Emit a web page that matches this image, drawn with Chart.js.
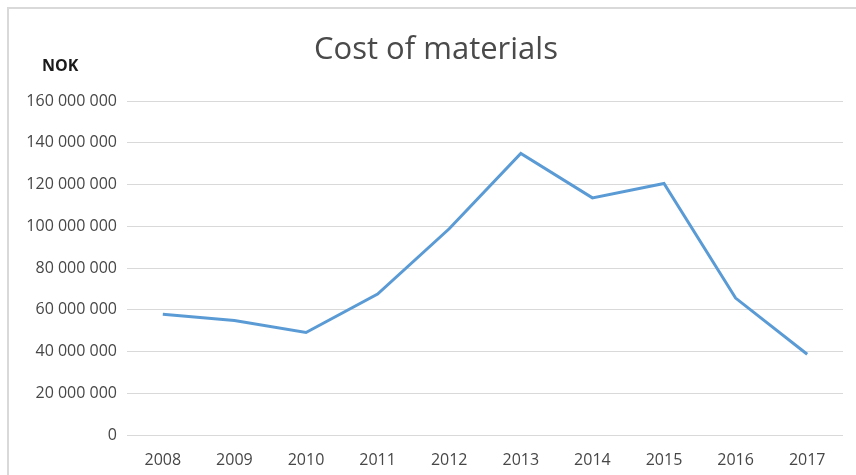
<!DOCTYPE html>
<html lang="en">
<head>
    <meta charset="UTF-8">
    <title>Cost of materials</title>
    <script src="https://cdn.jsdelivr.net/npm/chart.js"></script>
    <style>
        html, body { margin: 0; padding: 0; background: #fff; }
        #wrap { width: 856px; height: 475px; position: relative; }
    </style>
</head>
<body>
<div id="wrap"><canvas id="costChart" width="856" height="475"></canvas></div>
<script>
    // years on the x axis
    const years = ['2008', '2009', '2010', '2011', '2012', '2013', '2014', '2015', '2016', '2017'];
    // cost of materials in NOK
    const costNok = [57900000, 54900000, 49100000, 67500000, 98800000, 134900000, 113600000, 120500000, 65600000, 38700000];
    const titleText = 'Cost of materials';
    const unitText = 'NOK';

    const textGrey = '#474747';

    // spaces as thousand separators: 160 000 000
    function fmt(v) {
        return String(v).replace(/\B(?=(\d{3})+(?!\d))/g, ' ');
    }

    // frame, title and the NOK label
    const decor = {
        id: 'decor',
        beforeDraw(chart) {
            const c = chart.ctx;
            c.save();
            c.strokeStyle = '#d9d9d9';
            c.lineWidth = 2;
            c.beginPath();
            c.moveTo(8, 475);
            c.lineTo(8, 8);
            c.lineTo(856, 8);
            c.stroke();
            c.restore();
        },
        afterDraw(chart) {
            const c = chart.ctx;
            c.save();
            c.fillStyle = '#4a4a4a';
            c.font = '31px "Open Sans"';
            c.textAlign = 'center';
            c.textBaseline = 'middle';
            c.fillText(titleText, 436, 50);
            c.fillStyle = '#1a1a1a';
            c.font = 'bold 16px "Open Sans"';
            c.textAlign = 'left';
            c.fillText(unitText, 42, 66);
            c.restore();
        }
    };

    const ctx = document.getElementById('costChart').getContext('2d');
    new Chart(ctx, {
        type: 'line',
        data: {
            labels: years,
            datasets: [{
                label: titleText,
                data: costNok,
                borderColor: '#5B9BD5',
                borderWidth: 3,
                tension: 0,
                pointRadius: 0,
                fill: false
            }]
        },
        options: {
            responsive: false,
            animation: false,
            layout: { padding: { left: 16, top: 101, right: 13, bottom: 0 } },
            plugins: {
                legend: { display: false },
                title: { display: false },
                tooltip: { enabled: false }
            },
            scales: {
                x: {
                    offset: true,
                    grid: { display: false, drawTicks: false },
                    border: { display: false },
                    ticks: {
                        color: textGrey,
                        font: { family: 'Open Sans', size: 16 },
                        padding: 16,
                        maxRotation: 0
                    },
                    afterFit: s => { s.height = 40; }
                },
                y: {
                    min: 0,
                    max: 160000000,
                    grid: { color: '#d9d9d9', lineWidth: 1, drawTicks: false },
                    border: { display: false },
                    ticks: {
                        stepSize: 20000000,
                        color: textGrey,
                        font: { family: 'Open Sans', size: 16 },
                        padding: 10,
                        callback: v => fmt(v)
                    },
                    afterFit: s => { s.width = 111; }
                }
            }
        },
        plugins: [decor]
    });
</script>
</body>
</html>
